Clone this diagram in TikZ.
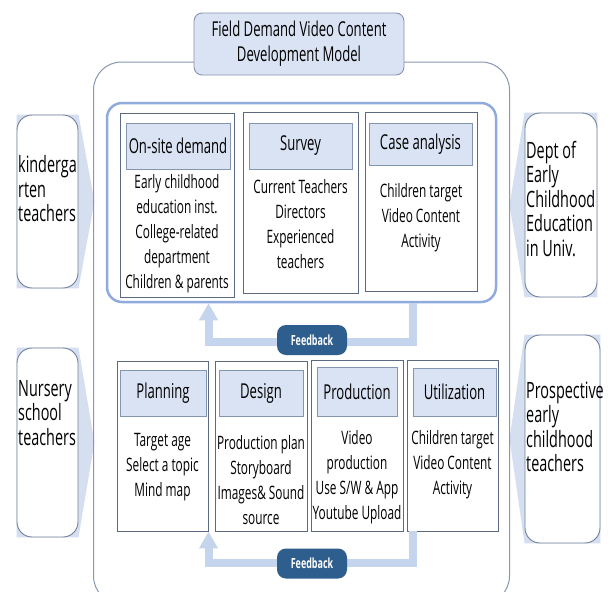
\documentclass[tikz,border=0pt]{standalone}
\usepackage{fontspec}
\setmainfont[FakeStretch=0.64]{Open Sans}
\usetikzlibrary{calc, arrows.meta, backgrounds}

\definecolor{hdrblue}{HTML}{DAE3F3}
\definecolor{hdrline}{HTML}{8495B0}
\definecolor{boxline}{HTML}{5B6A82}
\definecolor{grpline}{HTML}{8FAADC}
\definecolor{fblight}{HTML}{C5D5ED}
\definecolor{fbdark}{HTML}{2E5E8E}
\definecolor{sidefill}{HTML}{D5DFF0}
\definecolor{sideline}{HTML}{6F7F99}
\definecolor{frameline}{HTML}{8797B4}

\begin{document}
\begin{tikzpicture}
      [x=1pt,y=-1pt
      ,box/.style={draw=boxline,fill=white,line width=.9pt,inner sep=0pt}
      ,hdr/.style={draw=hdrline,fill=hdrblue,line width=.9pt,inner sep=0pt,font=\fontsize{20.5}{25}\selectfont}
      ,txt/.style={align=center,inner sep=0pt,font=\fontsize{18.5}{25}\selectfont}
      ,grp/.style={draw=grpline,line width=2.5pt,rounded corners=15pt,inner sep=0pt}
      ,side/.style={draw=sideline,fill=white,line width=.9pt,rounded corners=15pt,inner sep=0pt}
      ,sidetxt/.style={align=left,anchor=west,inner sep=0pt,font=\fontsize{22.5}{24.5}\selectfont}
      ,ttl/.style={draw=hdrline,fill=hdrblue,line width=.9pt,rounded corners=8pt,align=center,font=\fontsize{20.5}{25}\selectfont}
      ,fbarrow/.style={draw=fblight,line width=8pt,-{Triangle[width=18pt,length=17pt]}}
      ,fbpill/.style={fill=fbdark,text=white,rounded corners=9pt,minimum width=70pt,minimum height=30pt,inner sep=0pt,font=\bfseries\fontsize{14}{16}\selectfont}
      ]
        \clip (0,0) rectangle (611,592);

        % side boxes and their arrows
        \node[side,minimum width=61pt,minimum height=173pt] (kind) at (47.5,201.5) {};
        \node[side,minimum width=61pt,minimum height=189pt] (nurs) at (47.5,442.5) {};
        \node[side,minimum width=72pt,minimum height=184pt] (dept) at (561,205) {};
        \node[side,minimum width=75pt,minimum height=208pt] (pros) at (562.5,439) {};
        \begin{scope}[on background layer]
            \fill[white] (0,0) rectangle (611,592);
            \foreach \n in {kind, nurs}
                \fill[sidefill] (\n.north west) -- (\n.north east) -- ($ (\n.east) + (16,0) $) -- (\n.south east) -- (\n.south west) -- cycle;
            \foreach \n in {dept, pros}
                \fill[sidefill] (\n.north east) -- (\n.north west) -- ($ (\n.west) + (-15,0) $) -- (\n.south west) -- (\n.south east) -- cycle;
        \end{scope}

        \node[sidetxt] (kindt) at (18,189) {kinderga\\rten\\teachers};
        \node[sidetxt] (nurst) at (18,413) {Nursery\\school\\teachers};
        \node[sidetxt] (deptt) at (526,199) {Dept of\\Early\\Childhood\\Education\\in Univ.};
        \node[sidetxt] (prost) at (526,427) {Prospective\\early\\childhood\\teachers};

        % outer frame and title
        \draw[frameline,line width=1pt,rounded corners=28pt] (93.5,62) rectangle (509.5,604);
        \node[ttl,minimum width=210pt,minimum height=62pt] (title) at (299,44) {Field Demand Video Content\\Development Model};

        % upper group
        \node[grp,minimum width=389pt,minimum height=199pt] (upper) at (301.5,202.5) {};
        \foreach \n/\cx/\cy/\w/\h in {onsite/177/205/114/184, survey/300.5/202.5/115/181, case/421/201.5/112/179}
            \node[box,minimum width=\w pt,minimum height=\h pt] (\n) at (\cx,\cy) {};
        \foreach \n/\cx/\cy/\w/\h/\t in {onsiteh/178/146/104/46/On-site demand, surveyh/300.5/146/103/46/Survey, caseh/420.5/144/103/42/Case analysis}
            \node[hdr,minimum width=\w pt,minimum height=\h pt] (\n) at (\cx,\cy) {\t};
        \node[txt] (onsitet) at (177,234) {Early childhood\\education inst.\\College-related\\department\\Children \& parents};
        \node[txt] (surveyt) at (300.5,224.5) {Current Teachers\\Directors\\Experienced\\teachers};
        \node[txt] (caset) at (421,218) {Children target\\Video Content\\Activity};

        % lower group
        \foreach \n/\cx/\cy/\w/\h in {plan/162.5/446/91/170, design/261/446/92/170, prod/357/445.5/92/171, util/452.5/445.5/91/171}
            \node[box,minimum width=\w pt,minimum height=\h pt] (\n) at (\cx,\cy) {};
        \foreach \n/\cx/\cy/\w/\h/\t in {planh/163/393/86/46/Planning, designh/261/393/84/46/Design, prodh/357/391.5/80/49/Production, utilh/454.5/392/83/48/Utilization}
            \node[hdr,minimum width=\w pt,minimum height=\h pt] (\n) at (\cx,\cy) {\t};
        \node[txt] (plant) at (162.5,467) {Target age\\Select a topic\\Mind map};
        \node[txt] (designt) at (261,480) {Production plan\\Storyboard\\Images\& Sound\\source};
        \node[txt] (prodt) at (357,477.5) {Video\\production\\Use S/W \& App\\Youtube Upload};
        \node[txt] (utilt) at (452.5,465) {Children target\\Video Content\\Activity};

        % feedback loops
        \coordinate (fbR) at (413,0);
        \coordinate (fbL) at (208.5,0);
        \coordinate (fb1c) at (312,342);
        \coordinate (fb2c) at (312,563);
        \draw[fbarrow] (fbR |- upper.south) |- (fb1c) -| (fbL |- upper.south);
        \draw[fbarrow] (fbR |- util.south) |- (fb2c) -| (fbL |- plan.south);
        \node[fbpill] (fb1) at (312,340) {Feedback};
        \node[fbpill] (fb2) at (312,563.5) {Feedback};

       \end{tikzpicture}
\end{document}
